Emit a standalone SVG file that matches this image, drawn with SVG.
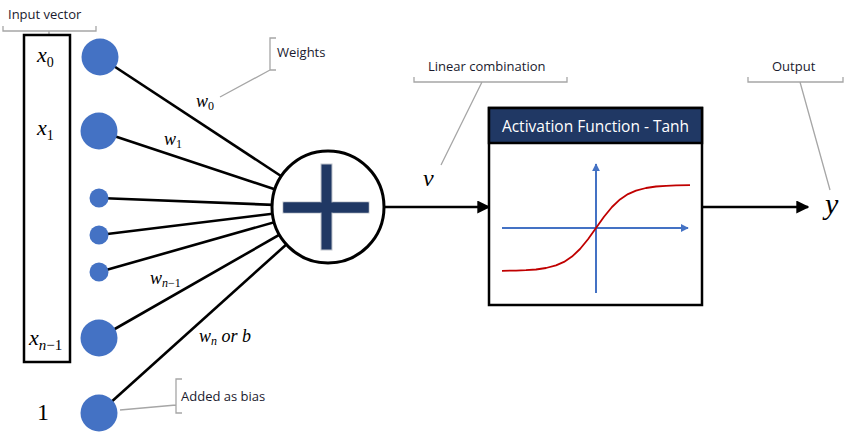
<svg xmlns="http://www.w3.org/2000/svg" width="855" height="434" viewBox="0 0 855 434">
<defs>
<style>
.lbl{font-family:"Open Sans","Liberation Sans",sans-serif;font-size:13px;fill:#1a1a2e}
.math{font-family:"Liberation Serif","DejaVu Serif",serif;font-style:italic;fill:#000}
.br{fill:none;stroke:#a6a6a6;stroke-width:1.3}
.edge{stroke:#000;stroke-width:2.6;fill:none}
.inp{fill:#4472c4}
.axis{stroke:#4472c4;stroke-width:2;fill:none}
</style>
<marker id="ah" viewBox="0 0 10 10" refX="9" refY="5" markerWidth="5" markerHeight="5" orient="auto"><path d="M0,0 L10,5 L0,10 z" fill="#000"/></marker>
<marker id="bh" viewBox="0 0 10 10" refX="9" refY="5" markerWidth="4" markerHeight="4" orient="auto"><path d="M0,0 L10,5 L0,10 z" fill="#4472c4"/></marker>
</defs>
<rect width="855" height="434" fill="#fff"/>
<g id="connectors">
<line class="edge" x1="100" y1="57" x2="328" y2="207"/>
<line class="edge" x1="99" y1="131" x2="328" y2="207"/>
<line class="edge" x1="99" y1="198" x2="328" y2="207"/>
<line class="edge" x1="99" y1="235" x2="328" y2="207"/>
<line class="edge" x1="99" y1="272" x2="328" y2="207"/>
<line class="edge" x1="99" y1="338" x2="328" y2="207"/>
<line class="edge" x1="99" y1="413" x2="328" y2="207"/>
<line class="edge" x1="385" y1="207" x2="489" y2="207" marker-end="url(#ah)"/>
<line class="edge" x1="702" y1="207" x2="808" y2="207" marker-end="url(#ah)"/>
</g>
<g id="input-vector">
<path class="br" d="M3,26 V31 H96 V26 M49,31 V35"/>
<text class="lbl" x="8" y="19">Input vector</text>
<rect x="24" y="35" width="46" height="327" fill="none" stroke="#000" stroke-width="2.5"/>
<text class="math" x="37" y="62" font-size="22">x<tspan font-size="14" font-style="normal" dy="5">0</tspan></text>
<text class="math" x="37" y="135" font-size="22">x<tspan font-size="14" font-style="normal" dy="5">1</tspan></text>
<text class="math" x="29" y="345" font-size="22">x<tspan font-size="15" dy="5">n</tspan><tspan font-size="15" font-style="normal">−1</tspan></text>
<text x="37" y="420" font-family="Liberation Serif,DejaVu Serif,serif" font-size="24">1</text>
</g>
<g id="x0"><circle class="inp" cx="100" cy="57" r="18.5"/></g>
<g id="x1"><circle class="inp" cx="99" cy="131" r="18.5"/></g>
<g id="d1"><circle class="inp" cx="99" cy="198" r="9.5"/></g>
<g id="d2"><circle class="inp" cx="99" cy="235" r="9.5"/></g>
<g id="d3"><circle class="inp" cx="99" cy="272" r="9.5"/></g>
<g id="xn1"><circle class="inp" cx="99" cy="338" r="18.5"/></g>
<g id="bias"><circle class="inp" cx="99" cy="413" r="18.5"/></g>
<g id="weights">
<path class="br" d="M276,38 H270 V70 H276 M270,70 L220,97"/>
<text class="lbl" x="277" y="57">Weights</text>
<text class="math" x="196" y="107" font-size="18">w<tspan font-size="12" font-style="normal" dy="3">0</tspan></text>
<text class="math" x="164" y="145" font-size="18">w<tspan font-size="12" font-style="normal" dy="3">1</tspan></text>
<text class="math" x="150" y="284" font-size="18">w<tspan font-size="12" dy="3">n</tspan><tspan font-size="12" font-style="normal">−1</tspan></text>
<text class="math" x="199" y="342" font-size="18">w<tspan font-size="12" dy="3">n</tspan><tspan dy="-3"> or b</tspan></text>
</g>
<g id="added-bias">
<path class="br" d="M182,379 H176 V413 H182 M176,405 L120,410"/>
<text class="lbl" x="181" y="401">Added as bias</text>
</g>
<g id="sum">
<circle cx="328" cy="207" r="56" fill="#fff" stroke="#000" stroke-width="3"/>
<rect x="283" y="202" width="86" height="11" fill="#203864" stroke="#bfc4cc" stroke-width="1"/>
<rect x="321" y="164" width="11" height="86" fill="#203864" stroke="#bfc4cc" stroke-width="1"/>
<rect x="283.5" y="202.5" width="85" height="10" fill="#203864"/>
</g>
<g id="linear-combination">
<path class="br" d="M414,77 V82 H567 V77 M482,82 L441,165"/>
<text class="lbl" x="428" y="71">Linear combination</text>
<text class="math" x="423" y="186" font-size="24">v</text>
</g>
<g id="activation">
<rect x="489" y="108" width="213" height="197" fill="#fff" stroke="#000" stroke-width="2.5"/>
<rect x="489" y="108" width="213" height="35" fill="#203864" stroke="#000" stroke-width="2.5"/>
<text x="595.5" y="131.5" text-anchor="middle" font-family="Open Sans,Liberation Sans,sans-serif" font-size="15.5" fill="#fff">Activation Function - Tanh</text>
<line class="axis" x1="596" y1="293" x2="596" y2="164" marker-end="url(#bh)"/>
<line class="axis" x1="502" y1="228" x2="688" y2="228" marker-end="url(#bh)"/>
<polyline points="502,270.8 516,270.6 526,270.2 536,269.5 546,268 556,265.4 564,261.9 572,256.6 580,249 588,239.2 596,228 604,216.8 612,207 620,199.4 628,194.1 636,190.6 646,188 656,186.5 666,185.8 676,185.4 690,185.2" fill="none" stroke="#c00000" stroke-width="1.8" stroke-linejoin="round"/>
</g>
<g id="output">
<path class="br" d="M748,77 V82 H843 V77 M800,82 L830,190"/>
<text class="lbl" x="772" y="71">Output</text>
<text class="math" x="825" y="214" font-size="30">y</text>
</g>
</svg>
